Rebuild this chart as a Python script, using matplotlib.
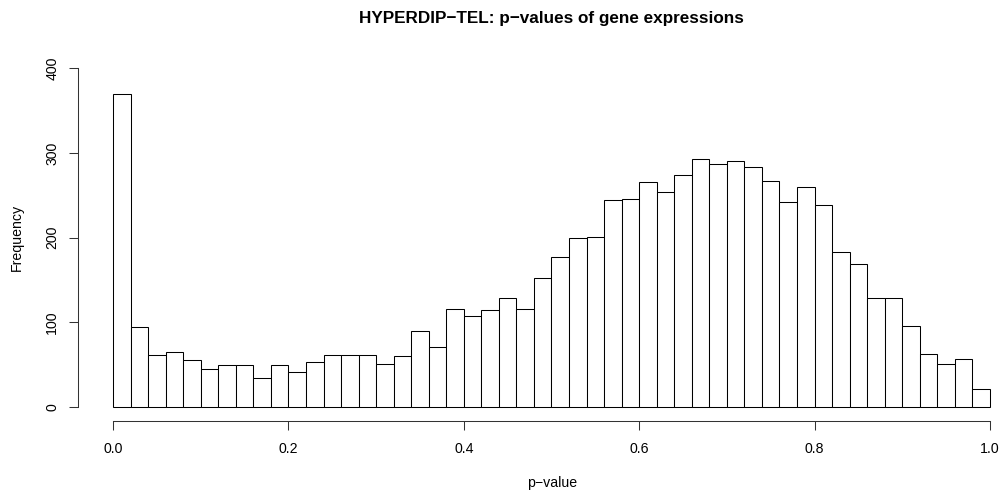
import numpy as np
import matplotlib
matplotlib.use("Agg")
import matplotlib.pyplot as plt

plt.rcParams['font.family'] = ['Liberation Sans', 'DejaVu Sans']

# histogram counts, 50 bins of width 0.02 over [0, 1]
bin_edges = np.linspace(0.0, 1.0, 51)
counts = [370, 94, 62, 65, 56, 45, 50, 50, 34, 50,
          41, 53, 61, 62, 61, 51, 60, 90, 71, 116,
          108, 114, 129, 116, 152, 177, 200, 201, 245, 246,
          266, 254, 274, 293, 287, 291, 284, 267, 242, 260,
          239, 183, 169, 129, 129, 96, 63, 51, 57, 21]
x_ticks = [0.0, 0.2, 0.4, 0.6, 0.8, 1.0]
y_ticks = [0, 100, 200, 300, 400]

W, H = 1004, 494
fig = plt.figure(figsize=(W / 100, H / 100), dpi=100)
left, right, top, bottom = 78, 1025, 54.7, 420.6
ax = fig.add_axes([left / W, 1 - bottom / H, (right - left) / W, (bottom - top) / H])

ax.bar(bin_edges[:-1], counts, width=np.diff(bin_edges), align='edge',
       color='white', edgecolor='black', linewidth=0.75, clip_on=False)

ax.set_xlim(-0.04, 1.04)
ax.set_ylim(-16, 416)

for s in ['top', 'right']:
    ax.spines[s].set_visible(False)
ax.spines['left'].set_bounds(0, 400)
ax.spines['bottom'].set_bounds(0, 1)
for s in ['left', 'bottom']:
    ax.spines[s].set_linewidth(0.75)
    ax.spines[s].set_color('#333333')

ax.set_xticks(x_ticks)
ax.set_xticklabels([f"{t:.1f}" for t in x_ticks])
ax.set_yticks(y_ticks)
ax.set_yticklabels([str(t) for t in y_ticks], rotation=90, va='center')
ax.tick_params(axis='both', direction='out', length=6.5, width=0.75,
               color='#333333', labelsize=10.2)
ax.tick_params(axis='x', pad=9)
ax.tick_params(axis='y', pad=7)

fig.text(552 / W, 1 - 483 / H, "p\u2212value", ha='center', va='center', fontsize=10.2)
fig.text(17 / W, 1 - 237 / H, "Frequency", ha='center', va='center',
         rotation=90, fontsize=10.2)
fig.text(551 / W, 1 - 19 / H, "HYPERDIP\u2212TEL: p\u2212values of gene expressions",
         ha='center', va='center', fontsize=12.3, fontweight='bold')

fig.savefig("out.png", dpi=100)
